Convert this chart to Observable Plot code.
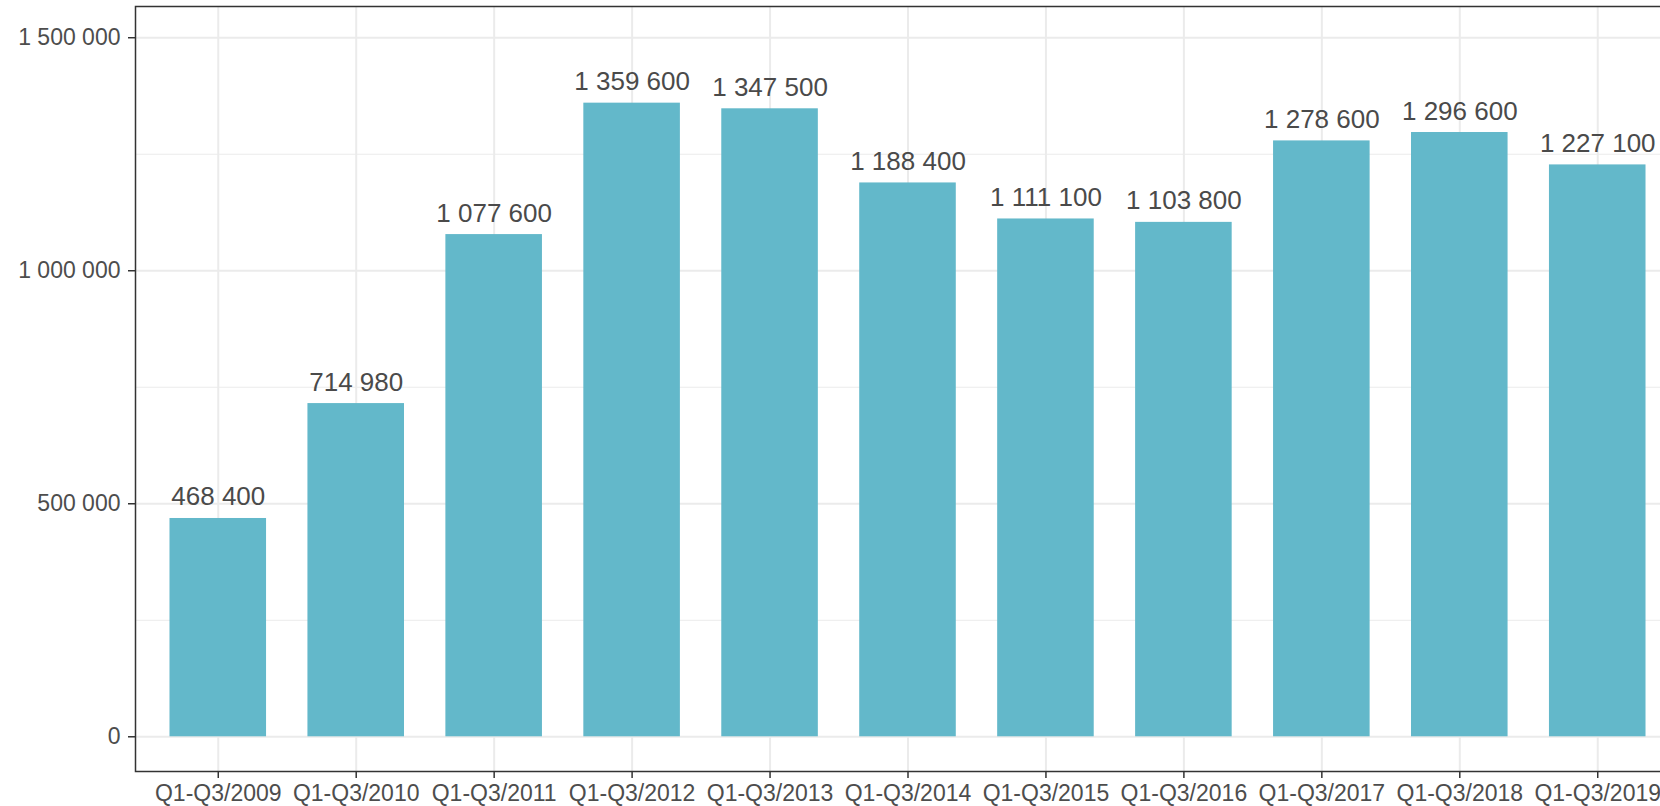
<!DOCTYPE html>
<html>
<head>
<meta charset="utf-8">
<script src="https://cdn.jsdelivr.net/npm/d3@7"></script>
<script src="https://cdn.jsdelivr.net/npm/@observablehq/plot@0.6"></script>
<style>
  html, body { margin: 0; padding: 0; background: #fff; overflow: hidden; }
  #chart { width: 1660px; height: 806px; overflow: hidden; }
  #chart svg { max-width: none !important; width: 1680px; height: 806px; display: block; }
</style>
</head>
<body>
<div id="chart"></div>
<script>
const periods = ["Q1-Q3/2009","Q1-Q3/2010","Q1-Q3/2011","Q1-Q3/2012","Q1-Q3/2013","Q1-Q3/2014","Q1-Q3/2015","Q1-Q3/2016","Q1-Q3/2017","Q1-Q3/2018","Q1-Q3/2019"];
const values = [468400, 714980, 1077600, 1359600, 1347500, 1188400, 1111100, 1103800, 1278600, 1296600, 1227100];
const majorTicks = [0, 500000, 1000000, 1500000];
const minorTicks = [250000, 750000, 1250000];

const data = periods.map((p, i) => ({period: p, value: values[i]}));
const fmt = d3.formatLocale({decimal: ",", thousands: " ", grouping: [3], currency: ["", ""]}).format(",");

const font = "'Liberation Sans', Arial, sans-serif";
const chart = Plot.plot({
  width: 1680,
  height: 806,
  marginLeft: 135,
  marginRight: 0,
  marginTop: 6,
  marginBottom: 35,
  style: {fontFamily: font, background: "#fff"},
  x: {domain: periods, paddingInner: 0.3, paddingOuter: 0.25, round: false, label: null},
  y: {domain: [-74500, 1567000], label: null},
  marks: [
    Plot.gridY(minorTicks, {stroke: "#ebebeb", strokeOpacity: 1, strokeWidth: 1}),
    Plot.gridY(majorTicks, {stroke: "#ebebeb", strokeOpacity: 1, strokeWidth: 2}),
    Plot.gridX(periods, {stroke: "#ebebeb", strokeOpacity: 1, strokeWidth: 2}),
    Plot.barY(data, {x: "period", y1: 0, y2: "value", fill: "#63b8ca"}),
    Plot.text(data, {x: "period", y: "value", text: d => fmt(d.value), lineAnchor: "bottom", dy: -13, fontSize: 26, fill: "#4a4a4a"}),
    Plot.frame({stroke: "#333333", strokeWidth: 1.5}),
    Plot.axisY(majorTicks, {tickFormat: fmt, tickSize: 7, tickPadding: 8, fontSize: 23, color: "#4d4d4d", stroke: "#333333", strokeWidth: 1.5, label: null}),
    Plot.axisX({tickSize: 7, tickPadding: 6.5, fontSize: 23, color: "#4d4d4d", stroke: "#333333", strokeWidth: 1.5, label: null})
  ]
});
document.getElementById("chart").appendChild(chart);
</script>
</body>
</html>
